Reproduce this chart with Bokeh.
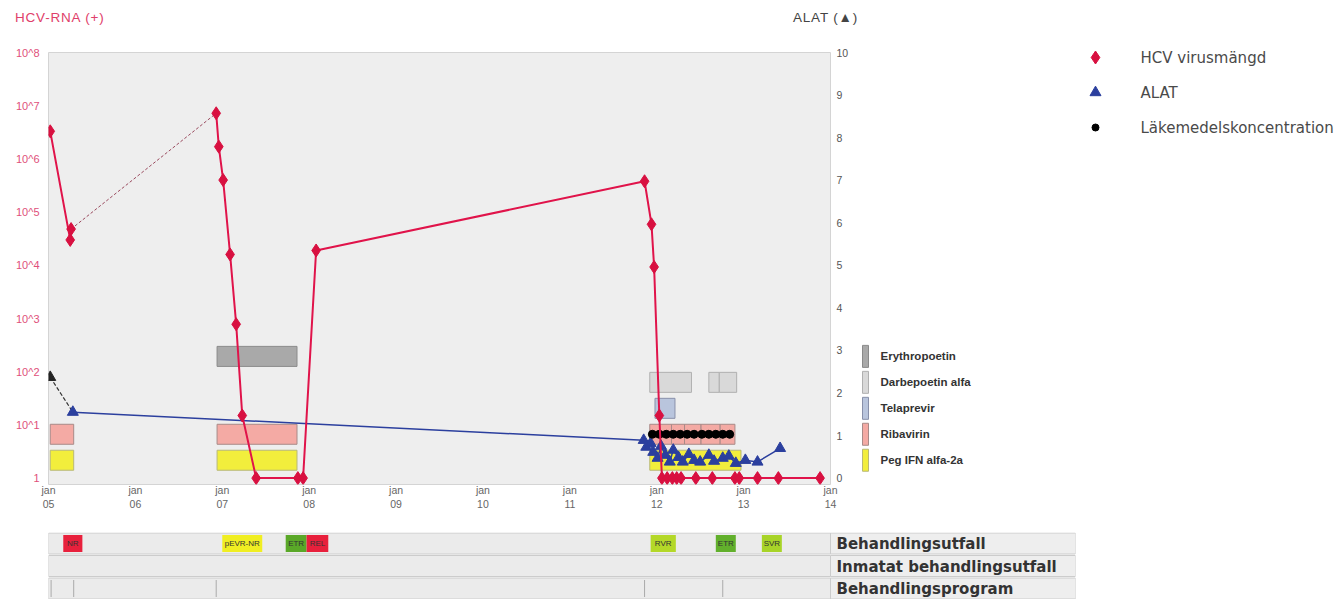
from bokeh.plotting import figure
from bokeh.models import Range1d, LinearScale, LinearAxis, FixedTicker, Div
from bokeh.layouts import column, row
from bokeh.embed import file_html
from bokeh.resources import INLINE
from bokeh.core.properties import value

# ---------------- data ----------------
hcv_dates = [2005.02, 2005.25, 2005.26, 2006.93, 2006.96, 2007.01, 2007.09, 2007.16, 2007.23,
             2007.39, 2007.87, 2007.93, 2008.08, 2011.86, 2011.94, 2011.97, 2012.03,
             2012.06, 2012.12, 2012.18, 2012.23, 2012.28, 2012.45, 2012.64, 2012.90, 2012.95,
             2013.16, 2013.40, 2013.88]
hcv_values = [3.3e6, 3.0e4, 4.8e4, 7.2e6, 1.7e6, 4.0e5, 1.6e4, 780, 15,
              1, 1, 1, 1.9e4, 3.8e5, 5.9e4, 9.3e3, 15,
              1, 1, 1, 1, 1, 1, 1, 1, 1,
              1, 1, 1]

alat_dates = [2005.02, 2005.28, 2011.85, 2011.88, 2011.93, 2011.96, 2012.01, 2012.05, 2012.10,
              2012.15, 2012.19, 2012.25, 2012.30, 2012.37, 2012.43, 2012.50, 2012.60, 2012.66,
              2012.76, 2012.83, 2012.91, 2013.02, 2013.16, 2013.42]
alat_values = [2.37, 1.55, 0.89, 0.73, 0.82, 0.61, 0.47, 0.75, 0.54,
               0.38, 0.66, 0.49, 0.38, 0.56, 0.42, 0.38, 0.54, 0.40,
               0.47, 0.52, 0.35, 0.42, 0.38, 0.70]

drug_names = ["Peg IFN alfa-2a", "Ribavirin", "Telaprevir", "Darbepoetin alfa", "Erythropoetin"]
drug_fill = ["#f2ee3c", "#f4aaa4", "#b9c5dd", "#d9d9d9", "#a9a9a9"]
drug_line = ["#b8b878", "#a88a88", "#8890aa", "#b0b0b0", "#8a8a8a"]
peg_start = [2005.02, 2006.94, 2011.92]
peg_end = [2005.29, 2007.86, 2012.97]
riba_start = [2005.02, 2006.94, 2011.92, 2012.17, 2012.32, 2012.51, 2012.73]
riba_end = [2005.29, 2007.86, 2012.17, 2012.32, 2012.51, 2012.73, 2012.90]
tela_start = [2011.98]
tela_end = [2012.21]
darbe_start = [2011.92, 2012.60, 2012.72]
darbe_end = [2012.40, 2012.72, 2012.92]
epo_start = [2006.94]
epo_end = [2007.86]
drug_periods = [(peg_start, peg_end), (riba_start, riba_end), (tela_start, tela_end),
                (darbe_start, darbe_end), (epo_start, epo_end)]

conc_dates = [2011.95, 2012.03, 2012.11, 2012.19, 2012.27, 2012.35, 2012.43, 2012.52,
              2012.60, 2012.68, 2012.76, 2012.84]

outcome_start = [2005.17, 2007.00, 2007.73, 2007.97, 2011.93, 2012.68, 2013.21]
outcome_end = [2005.39, 2007.46, 2007.97, 2008.22, 2012.22, 2012.91, 2013.44]
outcome_labels = ["NR", "pEVR-NR", "ETR", "REL", "RVR", "ETR", "SVR"]
outcome_colors = ["#e8203c", "#f0ee22", "#5aa828", "#e8203c", "#b4d828", "#62b02c", "#a8d428"]
program_marks = [2005.03, 2005.29, 2006.93, 2011.86, 2012.76]
strip_labels = ["Behandlingsutfall", "Inmatat behandlingsutfall", "Behandlingsprogram"]

x_ticks = [2005, 2006, 2007, 2008, 2009, 2010, 2011, 2012, 2013, 2014]
x_tick_labels = ["jan\n05", "jan\n06", "jan\n07", "jan\n08", "jan\n09", "jan\n10",
                 "jan\n11", "jan\n12", "jan\n13", "jan\n14"]
hcv_ticks = [1, 1e1, 1e2, 1e3, 1e4, 1e5, 1e6, 1e7, 1e8]
hcv_tick_labels = ["1", "10^1", "10^2", "10^3", "10^4", "10^5", "10^6", "10^7", "10^8"]
alat_ticks = [0, 1, 2, 3, 4, 5, 6, 7, 8, 9, 10]

hcv_axis_title = "HCV-RNA (+)"
alat_axis_title = "ALAT (▲)"
legend_labels = ["HCV virusmängd", "ALAT", "Läkemedelskoncentration"]

# ---------------- layout constants (page pixels) ----------------
FRAME_L, FRAME_T, FRAME_W, FRAME_H = 48, 52, 782, 432
HEAD_H = 40
W_MAIN = 858
H_TOP = 532
H_MAIN = H_TOP - HEAD_H
ALAT_LO, ALAT_HI = -0.15, 10
ROW0, PITCH, BAR_H = 0.42, 0.61, 0.47
PX_PER_YEAR = FRAME_W / 9.0
PX_PER_ALAT = FRAME_H / (ALAT_HI - ALAT_LO)

HCV_RED = "#e0134a"
ALAT_BLUE = "#2b3f9e"
FONT = value("Liberation Sans")


def row_center(i):
    return ROW0 + i * PITCH


def bare(fig):
    fig.grid.visible = False
    fig.outline_line_color = None
    fig.background_fill_color = "white"
    fig.border_fill_color = "white"


# ---------------- header with axis titles ----------------
head_html = (
    f'<div style="position:relative;width:{W_MAIN}px;height:{HEAD_H}px;'
    f'font-family:\'Liberation Sans\';font-size:13.5px;line-height:14px;letter-spacing:0.8px;">'
    f'<span style="position:absolute;left:15px;top:11px;color:#e0406a;">{hcv_axis_title}</span>'
    f'<span style="position:absolute;right:0px;top:11px;color:#444444;">{alat_axis_title}</span>'
    f'</div>'
)
h = Div(text=head_html, width=W_MAIN, height=HEAD_H, margin=(0, 0, 0, 0))

# ---------------- main chart ----------------
p = figure(width=W_MAIN, height=H_MAIN, output_backend="svg", toolbar_location=None, title=None,
           x_range=Range1d(2005, 2014), y_range=Range1d(10 ** -0.12, 1e8), y_axis_type="log",
           min_border_left=FRAME_L, min_border_right=W_MAIN - FRAME_L - FRAME_W,
           min_border_top=FRAME_T - HEAD_H, min_border_bottom=H_MAIN - (FRAME_T - HEAD_H) - FRAME_H)
p.extra_y_ranges = {"alat": Range1d(ALAT_LO, ALAT_HI)}
p.extra_y_scales = {"alat": LinearScale()}
p.background_fill_color = "#eeeeee"
p.border_fill_color = "white"
p.outline_line_color = "#d4d4d4"
p.xgrid.visible = False
p.ygrid.visible = False

xa = p.xaxis[0]
xa.ticker = FixedTicker(ticks=x_ticks)
xa.major_label_overrides = dict(zip(x_ticks, x_tick_labels))
xa.axis_line_color = None
xa.major_tick_line_color = None
xa.minor_tick_line_color = None
xa.major_label_text_font_size = "10.5px"
xa.major_label_text_color = "#666666"
xa.major_label_text_font = "Liberation Sans"
xa.major_label_standoff = -7

ya = p.yaxis[0]
ya.ticker = FixedTicker(ticks=hcv_ticks)
ya.major_label_overrides = dict(zip(hcv_ticks, hcv_tick_labels))
ya.axis_line_color = None
ya.major_tick_line_color = None
ya.minor_tick_line_color = None
ya.major_label_text_font_size = "11px"
ya.major_label_text_color = "#e0507a"
ya.major_label_text_font = "Liberation Sans"
ya.major_label_standoff = 3

ra = LinearAxis(y_range_name="alat", ticker=FixedTicker(ticks=alat_ticks))
ra.axis_line_color = None
ra.major_tick_line_color = None
ra.minor_tick_line_color = None
ra.major_label_text_font_size = "10.5px"
ra.major_label_text_color = "#555555"
ra.major_label_text_font = "Liberation Sans"
ra.major_label_standoff = 0
p.add_layout(ra, "right")

# drug bars
for i, (st, en) in enumerate(drug_periods):
    c = row_center(i)
    p.quad(left=st, right=en, bottom=[c - BAR_H / 2] * len(st), top=[c + BAR_H / 2] * len(st),
           fill_color=drug_fill[i], line_color=drug_line[i], line_width=1, y_range_name="alat")

# ALAT
p.line(alat_dates[0:2], alat_values[0:2], line_color="#333333", line_width=1.2, line_dash="4 2",
       y_range_name="alat")
p.line(alat_dates[1:], alat_values[1:], line_color=ALAT_BLUE, line_width=1.5, y_range_name="alat")
p.scatter(alat_dates[1:], alat_values[1:], marker="triangle", size=11, fill_color=ALAT_BLUE,
          line_color=ALAT_BLUE, y_range_name="alat")
p.scatter(alat_dates[0:1], alat_values[0:1], marker="triangle", size=11, fill_color="#222222",
          line_color="#222222", y_range_name="alat")

# concentration dots
p.scatter(conc_dates, [row_center(1)] * len(conc_dates), marker="circle", size=8,
          fill_color="black", line_color="black", y_range_name="alat")

# HCV
p.line(hcv_dates[2:4], hcv_values[2:4], line_color="#9a4a5e", line_width=1, line_dash="3 2")
p.line(hcv_dates[0:3], hcv_values[0:3], line_color=HCV_RED, line_width=2)
p.line(hcv_dates[3:], hcv_values[3:], line_color=HCV_RED, line_width=2)
p.scatter(hcv_dates, hcv_values, marker="diamond", size=13, fill_color="#d81040",
          line_color="#d81040")

# ---------------- side legend figure ----------------
W_SIDE = 1340 - W_MAIN
X0 = W_MAIN
s = figure(width=W_SIDE, height=H_TOP, output_backend="svg", toolbar_location=None, title=None,
           x_range=Range1d(X0, X0 + W_SIDE), y_range=Range1d(H_TOP, 0),
           x_axis_location=None, y_axis_location=None, min_border=0)
bare(s)

for i, name in enumerate(drug_names):
    yc = FRAME_T + (ALAT_HI - row_center(i)) * PX_PER_ALAT
    s.quad(left=[X0 + 4], right=[X0 + 10], top=[yc - 11], bottom=[yc + 11],
           fill_color=drug_fill[i], line_color=drug_line[i])
    s.text(x=[X0 + 22], y=[yc], text=[name], text_font=FONT, text_font_size="11.5px",
           text_font_style="bold", text_color="#333333", text_baseline="middle")

leg_y = [57, 92, 127]
leg_mx, leg_tx = 1095, 1140
s.scatter([leg_mx], [leg_y[0]], marker="diamond", size=13, fill_color="#d81040", line_color="#d81040")
s.scatter([leg_mx], [leg_y[1]], marker="triangle", size=11, fill_color=ALAT_BLUE, line_color=ALAT_BLUE)
s.scatter([leg_mx], [leg_y[2]], marker="circle", size=7, fill_color="black", line_color="black")
s.text(x=[leg_tx] * 3, y=leg_y, text=legend_labels, text_font=value("DejaVu Sans"),
       text_font_size="15px", text_color="#4a4a4a", text_baseline="middle")

# ---------------- bottom strips ----------------
W_STRIP, H_STRIP = 1078, 67
STRIP_FRAME_W = W_STRIP - FRAME_L - 3
x_end = 2005 + STRIP_FRAME_W / PX_PER_YEAR
st_ = figure(width=W_STRIP, height=H_STRIP, output_backend="svg", toolbar_location=None, title=None,
             x_range=Range1d(2005, x_end), y_range=Range1d(H_STRIP, 0),
             x_axis_location=None, y_axis_location=None,
             min_border_left=FRAME_L, min_border_right=3, min_border_top=0, min_border_bottom=0)
bare(st_)

ROW_TOP, ROW_PITCH, ROW_H = 0.5, 22.5, 21
for i, lab in enumerate(strip_labels):
    t = ROW_TOP + i * ROW_PITCH
    st_.quad(left=[2005], right=[2014], top=[t], bottom=[t + ROW_H],
             fill_color="#ebebeb", line_color="#cccccc")
    st_.quad(left=[2014], right=[x_end], top=[t], bottom=[t + ROW_H],
             fill_color="#eeeeee", line_color="#cccccc")
    st_.text(x=[2014 + 6 / PX_PER_YEAR], y=[t + ROW_H / 2 + 0.5], text=[lab],
             text_font=value("DejaVu Sans"), text_font_size="15px", text_font_style="bold",
             text_color="#333333", text_baseline="middle")

t0 = ROW_TOP
st_.quad(left=outcome_start, right=outcome_end, top=[t0 + 2] * len(outcome_start),
         bottom=[t0 + ROW_H - 2] * len(outcome_start), fill_color=outcome_colors, line_color=None)
st_.text(x=[(a + b) / 2 for a, b in zip(outcome_start, outcome_end)],
         y=[t0 + ROW_H / 2] * len(outcome_start), text=outcome_labels, text_font=FONT,
         text_font_size="8px", text_color="#333333", text_align="center", text_baseline="middle")

t2 = ROW_TOP + 2 * ROW_PITCH
st_.segment(x0=program_marks, x1=program_marks, y0=[t2 + 2] * len(program_marks),
            y1=[t2 + ROW_H - 2] * len(program_marks), line_color="#aaaaaa", line_width=1)

layout = column(row(column(h, p), s), st_)
open("out.html", "w").write(file_html(layout, INLINE))
